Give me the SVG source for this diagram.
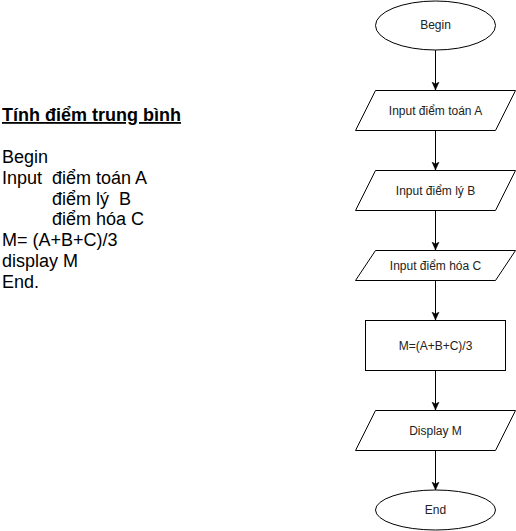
<svg xmlns="http://www.w3.org/2000/svg" width="516" height="531" viewBox="0 0 516 531">
<style>
.shape{fill:#ffffff;stroke:#000000;stroke-width:1}
.lbl{font-family:"Liberation Sans",Arial,sans-serif;font-size:12px;fill:#222222;text-anchor:middle}
.note{font-family:"Liberation Sans",Arial,sans-serif;font-size:18px;fill:#000000;white-space:pre}
.title{font-weight:bold;text-decoration:underline}
.edge{fill:none;stroke:#000000;stroke-width:1}
</style>
<defs>
<marker id="arrow" markerUnits="userSpaceOnUse" markerWidth="10" markerHeight="10" viewBox="0 0 10 10" refX="8" refY="5" orient="auto">
<path d="M8,5 L0,1.5 L2,5 L0,8.5 Z" fill="#000000" stroke="#000000" stroke-width="0.5"/>
</marker>
</defs>
<rect x="0" y="0" width="516" height="531" fill="#ffffff"/>
<g id="notes">
<text class="note title" x="2" y="121">Tính điểm trung bình</text>
<text class="note" x="2" y="163">Begin</text>
<text class="note" x="2" y="184">Input</text>
<text class="note" x="52" y="184">điểm toán A</text>
<text class="note" x="52" y="204.5" xml:space="preserve">điểm lý  B</text>
<text class="note" x="52" y="225">điểm hóa C</text>
<text class="note" x="2" y="246">M= (A+B+C)/3</text>
<text class="note" x="2" y="267">display M</text>
<text class="note" x="2" y="288">End.</text>
</g>
<g id="connectors">
<path class="edge" d="M435.5,50 L435.5,90" marker-end="url(#arrow)"/>
<path class="edge" d="M435.5,130 L435.5,170" marker-end="url(#arrow)"/>
<path class="edge" d="M435.5,210 L435.5,250" marker-end="url(#arrow)"/>
<path class="edge" d="M435.5,280 L435.5,320" marker-end="url(#arrow)"/>
<path class="edge" d="M435.5,370 L435.5,410" marker-end="url(#arrow)"/>
<path class="edge" d="M435.5,450 L435.5,490" marker-end="url(#arrow)"/>
</g>
<g id="begin">
<ellipse class="shape" cx="435.5" cy="25.5" rx="60" ry="24.5"/>
<text class="lbl" x="435.5" y="29">Begin</text>
</g>
<g id="inputA">
<polygon class="shape" points="375.5,90.5 515.5,90.5 495.5,130.5 355.5,130.5"/>
<text class="lbl" x="435.5" y="114.5">Input điểm toán A</text>
</g>
<g id="inputB">
<polygon class="shape" points="375.5,170.5 515.5,170.5 495.5,210.5 355.5,210.5"/>
<text class="lbl" x="435.5" y="194.5">Input điểm lý B</text>
</g>
<g id="inputC">
<polygon class="shape" points="375.5,250.5 515.5,250.5 495.5,280.5 355.5,280.5"/>
<text class="lbl" x="435.5" y="269.5">Input điểm hóa C</text>
</g>
<g id="compute">
<rect class="shape" x="365.5" y="320.5" width="140" height="50"/>
<text class="lbl" x="435.5" y="349.5">M=(A+B+C)/3</text>
</g>
<g id="display">
<polygon class="shape" points="375.5,410.5 515.5,410.5 495.5,450.5 355.5,450.5"/>
<text class="lbl" x="435.5" y="434.5">Display M</text>
</g>
<g id="end">
<ellipse class="shape" cx="435.5" cy="510" rx="60" ry="20"/>
<text class="lbl" x="435.5" y="514">End</text>
</g>
</svg>
